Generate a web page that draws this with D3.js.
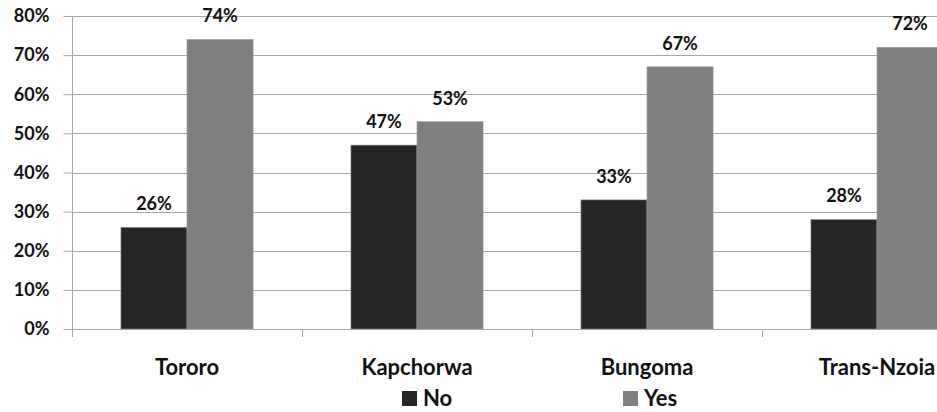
<!DOCTYPE html>
<html>
<head>
<meta charset="utf-8">
<script src="https://cdn.jsdelivr.net/npm/d3@7"></script>
<style>
  html, body { margin: 0; padding: 0; background: #fff; }
  svg { display: block; }
  text { font-family: Lato, "Open Sans", sans-serif; font-weight: bold; fill: #111; }
</style>
</head>
<body>
<svg id="chart" width="937" height="412"></svg>
<script>
// Share of responses per district
const categories = ["Tororo", "Kapchorwa", "Bungoma", "Trans-Nzoia"];
const seriesNames = ["No", "Yes"];
const noValues = [26, 47, 33, 28];
const yesValues = [74, 53, 67, 72];
const yTicks = [0, 10, 20, 30, 40, 50, 60, 70, 80];
const seriesColors = ["#262626", "#808080"];

const FONT = "Lato, 'Open Sans', sans-serif";
const svg = d3.select("#chart");

const plot = { left: 72, top: 16, bottom: 329, catWidth: 230 };

const y = d3.scaleLinear().domain([0, 80]).range([plot.bottom, plot.top]);

const x0 = d3.scaleBand()
  .domain(categories)
  .range([plot.left, plot.left + plot.catWidth * categories.length])
  .paddingInner(0).paddingOuter(0);

const x1 = d3.scaleBand()
  .domain(seriesNames)
  .range([0, x0.bandwidth()])
  .paddingInner(0)
  .paddingOuter(0.74);

const color = d3.scaleOrdinal().domain(seriesNames).range(seriesColors);

// horizontal gridlines
svg.append("g")
  .selectAll("line")
  .data(yTicks)
  .join("line")
  .attr("x1", plot.left).attr("x2", 937)
  .attr("y1", d => Math.round(y(d)) + 0.5).attr("y2", d => Math.round(y(d)) + 0.5)
  .attr("stroke", "#a6a6a6").attr("stroke-width", 1);

// y axis
const yAxis = d3.axisLeft(y)
  .tickValues(yTicks)
  .tickFormat(d => d + "%")
  .tickSize(9)
  .tickPadding(14);

const gy = svg.append("g")
  .attr("transform", `translate(${plot.left + 0.5},0)`)
  .call(yAxis);
gy.select(".domain").remove();
gy.selectAll(".tick line").attr("stroke", "#a6a6a6");
gy.selectAll(".tick text")
  .attr("font-size", 18)
  .attr("font-family", FONT)
  .attr("font-weight", "bold")
  .attr("fill", "#111");
svg.append("line")
  .attr("x1", plot.left + 0.5).attr("x2", plot.left + 0.5)
  .attr("y1", plot.top).attr("y2", plot.bottom + 8)
  .attr("stroke", "#a6a6a6");

// bars
const rows = categories.map((c, i) => ({ cat: c, vals: [
  { key: "No", value: noValues[i] },
  { key: "Yes", value: yesValues[i] }
]}));

const groups = svg.append("g")
  .selectAll("g")
  .data(rows)
  .join("g")
  .attr("transform", d => `translate(${x0(d.cat)},0)`);

groups.selectAll("rect")
  .data(d => d.vals)
  .join("rect")
  .attr("x", d => x1(d.key))
  .attr("y", d => y(d.value))
  .attr("width", x1.bandwidth())
  .attr("height", d => y(0) - y(d.value))
  .attr("fill", d => color(d.key))
  .attr("stroke", "#9a9a9a")
  .attr("stroke-width", 0.6);

groups.selectAll("text.val")
  .data(d => d.vals)
  .join("text")
  .attr("class", "val")
  .attr("x", d => x1(d.key) + x1.bandwidth() / 2)
  .attr("y", d => y(d.value) - 17)
  .attr("text-anchor", "middle")
  .attr("font-size", 18)
  .text(d => d.value + "%");

// x axis (category names)
const xAxis = d3.axisBottom(x0).tickSize(0).tickPadding(0);
const gx = svg.append("g")
  .attr("transform", `translate(0,${plot.bottom + 0.5})`)
  .call(xAxis);
gx.select(".domain").remove();
gx.selectAll(".tick text")
  .attr("y", 45.5)
  .attr("dy", 0)
  .attr("font-size", 22)
  .attr("font-family", FONT)
  .attr("font-weight", "bold")
  .attr("fill", "#111");
svg.append("line")
  .attr("x1", plot.left).attr("x2", 937)
  .attr("y1", plot.bottom + 0.5).attr("y2", plot.bottom + 0.5)
  .attr("stroke", "#a6a6a6");
// category boundary ticks
svg.append("g")
  .selectAll("line")
  .data(categories.slice(1))
  .join("line")
  .attr("x1", d => Math.round(x0(d)) + 0.5).attr("x2", d => Math.round(x0(d)) + 0.5)
  .attr("y1", plot.bottom).attr("y2", plot.bottom + 8)
  .attr("stroke", "#a6a6a6");

// legend
const legendX = [402, 623];
const legend = svg.append("g")
  .selectAll("g")
  .data(seriesNames)
  .join("g")
  .attr("transform", (d, i) => `translate(${legendX[i]},391)`);
legend.append("rect")
  .attr("width", 15).attr("height", 15)
  .attr("fill", d => color(d));
legend.append("text")
  .attr("x", 21).attr("y", 15)
  .attr("font-size", 22)
  .text(d => d);
</script>
</body>
</html>
